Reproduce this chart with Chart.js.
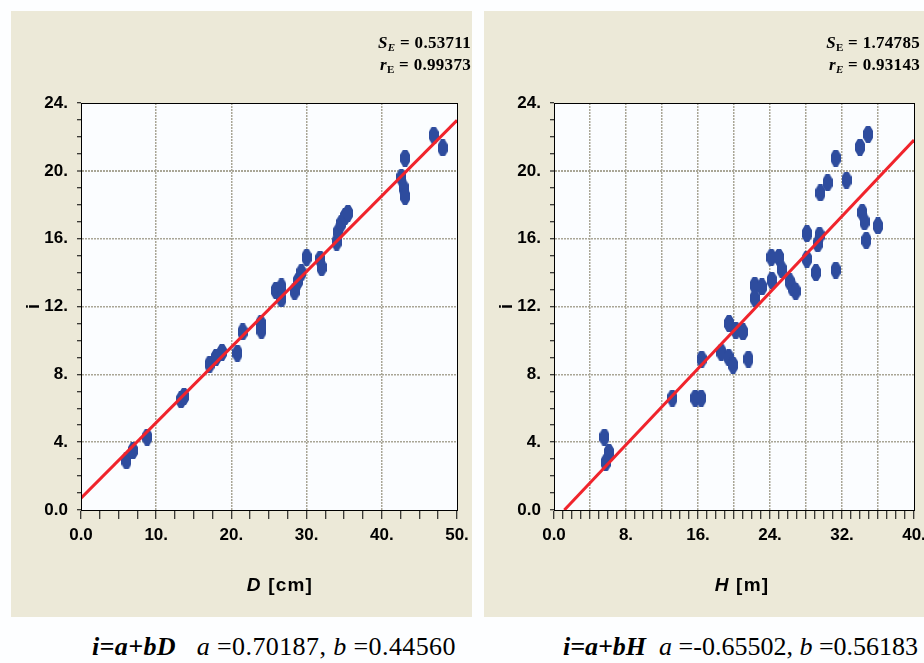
<!DOCTYPE html>
<html><head><meta charset="utf-8">
<script src="https://cdn.jsdelivr.net/npm/chart.js@4.4.1/dist/chart.umd.min.js"></script>
<style>
html,body{margin:0;padding:0;background:#FDFEFF;}
body{width:924px;height:663px;position:relative;overflow:hidden;font-family:"Liberation Sans",Arial,sans-serif;}
.panel{position:absolute;background:#ECE9D8;}
#p1{left:11px;top:11px;width:461px;height:606px;}
#p2{left:484px;top:11px;width:440px;height:606px;}
canvas{position:absolute;left:0;top:0;}
.stat{position:absolute;font-family:"Liberation Serif","Times New Roman",serif;font-weight:bold;font-size:17px;line-height:22px;text-align:right;white-space:nowrap;color:#000;letter-spacing:0.3px;}
.stat sub{font-size:11px;vertical-align:-3px;line-height:0;}
.xt{position:absolute;top:574px;width:200px;text-align:center;font-weight:bold;font-size:19px;line-height:22px;color:#000;letter-spacing:1.2px;}
.cap{position:absolute;top:633px;font-family:"Liberation Serif","Times New Roman",serif;font-size:26px;line-height:28px;white-space:nowrap;color:#000;letter-spacing:0.4px;}
</style>
</head><body>
<div class="panel" id="p1"><canvas id="c1" width="461" height="606"></canvas></div>
<div class="panel" id="p2"><canvas id="c2" width="440" height="606"></canvas></div>

<div class="stat" style="right:453px;top:32px;"><i>S<sub>E</sub></i> = 0.53711<br><i>r</i><sub>E</sub> = 0.99373</div>
<div class="stat" style="right:4px;top:32px;"><i>S</i><sub>E</sub> = 1.74785<br><i>r<sub>E</sub></i> = 0.93143</div>

<div class="xt" style="left:180px;"><i>D</i> [cm]</div>
<div class="xt" style="left:642px;"><i>H</i> [m]</div>

<div class="cap" style="left:92px;"><b><i>i=a+bD</i></b>&nbsp;&nbsp; <i>a</i> =0.70187, <i>b</i> =0.44560</div>
<div class="cap" style="left:563px;letter-spacing:0;"><b><i>i=a+bH</i></b>&nbsp; <i>a</i> =-0.65502, <i>b</i> =0.56183</div>

<script>
// ---- data ----
const D_CM   = [6.05, 6.9, 8.8, 13.3, 13.7, 17.1, 17.95, 18.75, 20.8, 21.5, 23.9, 24.0,
                25.9, 26.65, 26.65, 28.4, 28.85, 29.3, 30.0, 31.8, 32.0,
                34.0, 34.2, 34.6, 35.1, 35.5, 43.1, 42.6, 42.9, 43.1, 46.9, 48.1];
const I_BY_D = [2.9, 3.5, 4.3, 6.5, 6.7, 8.6, 9.0, 9.3, 9.25, 10.5, 11.0, 10.6,
                12.95, 13.15, 12.45, 12.9, 13.5, 14.0, 14.9, 14.8, 14.3,
                15.8, 16.4, 16.9, 17.3, 17.5, 20.75, 19.6, 19.0, 18.5, 22.1, 21.35];

const H_M    = [5.6, 6.1, 5.75, 13.15, 15.7, 16.35, 16.4, 18.6, 19.4, 19.9, 19.45, 20.2, 21.0,
                21.6, 22.3, 22.3, 23.1, 24.2, 24.15, 25.0, 25.3, 26.2, 26.5, 26.85,
                28.1, 28.1, 29.1, 29.5, 29.3, 29.6, 30.4, 31.3, 31.3, 32.5, 34.0, 34.9,
                34.25, 34.5, 34.7, 36.0];
const I_BY_H = [4.3, 3.4, 2.8, 6.6, 6.6, 6.6, 8.9, 9.3, 9.0, 8.55, 11.0, 10.6, 10.5,
                8.9, 13.25, 12.5, 13.15, 13.55, 14.9, 14.9, 14.2, 13.45, 13.1, 12.9,
                14.8, 16.3, 14.0, 16.2, 15.7, 18.7, 19.3, 20.75, 14.15, 19.45, 21.4, 22.15,
                17.55, 17.0, 15.9, 16.75];

// regression line end points
const FIT_D_X = [0, 50];
const FIT_D_Y = [0.70, 22.98];
const FIT_H_X = [1.15, 40];
const FIT_H_Y = [0, 21.82];

// tick labels
const Y_TICKS = [0, 4, 8, 12, 16, 20, 24];
const Y_TICK_LABELS = ['0.0', '4.', '8.', '12.', '16.', '20.', '24.'];
const D_TICKS = [0, 10, 20, 30, 40, 50];
const D_TICK_LABELS = ['0.0', '10.', '20.', '30.', '40.', '50.'];
const H_TICKS = [0, 8, 16, 24, 32, 40];
const H_TICK_LABELS = ['0.0', '8.', '16.', '24.', '32.', '40.'];

// ---- styling ----
const BLUE = '#2E4C9E';
const RED = '#F0242C';
const GRID = '#A9A696';
const TICK_FONT = {family: '"Liberation Sans", Arial, sans-serif', size: 17, weight: 'bold'};

function makeMarker() {
  const c = document.createElement('canvas');
  c.width = 10; c.height = 17;
  const g = c.getContext('2d');
  g.fillStyle = BLUE;
  g.beginPath();
  g.moveTo(3, 0); g.lineTo(7, 0); g.lineTo(10, 5); g.lineTo(10, 12);
  g.lineTo(7, 17); g.lineTo(3, 17); g.lineTo(0, 12); g.lineTo(0, 5);
  g.closePath(); g.fill();
  return c;
}
const MARKER = makeMarker();

const plotFrame = {
  id: 'plotFrame',
  beforeDraw(chart) {
    const {ctx, chartArea: a} = chart;
    ctx.save();
    ctx.fillStyle = '#FBFDFF';
    ctx.fillRect(a.left, a.top, a.right - a.left, a.bottom - a.top);
    ctx.restore();
  },
  afterDraw(chart) {
    const {ctx, chartArea: a} = chart;
    ctx.save();
    ctx.strokeStyle = '#000';
    ctx.lineWidth = 1;
    ctx.strokeRect(Math.round(a.left) + 0.5, Math.round(a.top) + 0.5,
                   Math.round(a.right - a.left), Math.round(a.bottom - a.top));
    ctx.restore();
  }
};

function labelFrom(ticks, labels) {
  return function (v) {
    const k = ticks.findIndex(t => Math.abs(t - v) < 1e-6);
    return k >= 0 ? labels[k] : '';
  };
}

function yScale() {
  return {
    type: 'linear', min: 0, max: 24,
    afterFit(s) { s.width = 70; s.paddingTop = 0; s.paddingBottom = 0; },
    ticks: {stepSize: 1, autoSkip: false, padding: 9, color: '#000', font: TICK_FONT,
            callback: labelFrom(Y_TICKS, Y_TICK_LABELS)},
    grid: {
      drawTicks: true, tickLength: 4, tickColor: '#000', tickWidth: 1, tickBorderDash: [],
      color(ctx) { const v = ctx.tick ? ctx.tick.value : -1; return (v > 0 && v < 24 && v % 4 === 0) ? GRID : 'rgba(0,0,0,0)'; },
      lineWidth(ctx) { const v = ctx.tick ? ctx.tick.value : -1; return v === 20 ? 2 : 1.5; }
    },
    border: {display: true, color: '#000', width: 1, dash: [2, 1]},
    title: {display: true, text: 'i', color: '#000',
            font: {family: '"Liberation Sans", Arial, sans-serif', size: 18, weight: 'bold'},
            padding: {top: 12, bottom: 0}}
  };
}

function xScale(max, step, gridEvery, ticks, labels) {
  return {
    type: 'linear', min: 0, max: max,
    afterFit(s) { s.height = 107; s.paddingLeft = 0; s.paddingRight = 0; },
    ticks: {stepSize: step, autoSkip: false, maxRotation: 0, minRotation: 0, padding: 6,
            color: '#000', font: TICK_FONT, callback: labelFrom(ticks, labels)},
    grid: {
      drawTicks: true, tickLength: 9, tickColor: '#000', tickWidth: 1, tickBorderDash: [],
      color(ctx) {
        const v = ctx.tick ? ctx.tick.value : -1;
        const on = v > 0 && v < max && Math.abs(v / gridEvery - Math.round(v / gridEvery)) < 1e-6;
        return on ? GRID : 'rgba(0,0,0,0)';
      },
      lineWidth: 1.5
    },
    border: {display: true, color: '#000', width: 1, dash: [2, 1]}
  };
}

function makeChart(id, xs, ys, fx, fy, xOpts, rightPad) {
  const pts = xs.map((x, k) => ({x: x, y: ys[k]}));
  const fit = fx.map((x, k) => ({x: x, y: fy[k]}));
  return new Chart(document.getElementById(id), {
    type: 'scatter',
    data: {
      datasets: [
        {data: fit, showLine: true, borderColor: RED, borderWidth: 3, pointRadius: 0, fill: false, order: 0},
        {data: pts, pointStyle: MARKER, pointRadius: 5, backgroundColor: BLUE, borderColor: BLUE, order: 1}
      ]
    },
    options: {
      responsive: false, animation: false, devicePixelRatio: 1,
      layout: {padding: {top: 92, right: rightPad, left: 0, bottom: 0}},
      plugins: {legend: {display: false}, tooltip: {enabled: false}},
      scales: {x: xOpts, y: yScale()}
    },
    plugins: [plotFrame]
  });
}

makeChart('c1', D_CM, I_BY_D, FIT_D_X, FIT_D_Y, xScale(50, 2.5, 10, D_TICKS, D_TICK_LABELS), 15);
makeChart('c2', H_M, I_BY_H, FIT_H_X, FIT_H_Y, xScale(40, 1, 4, H_TICKS, H_TICK_LABELS), 10);
</script>
</body></html>
